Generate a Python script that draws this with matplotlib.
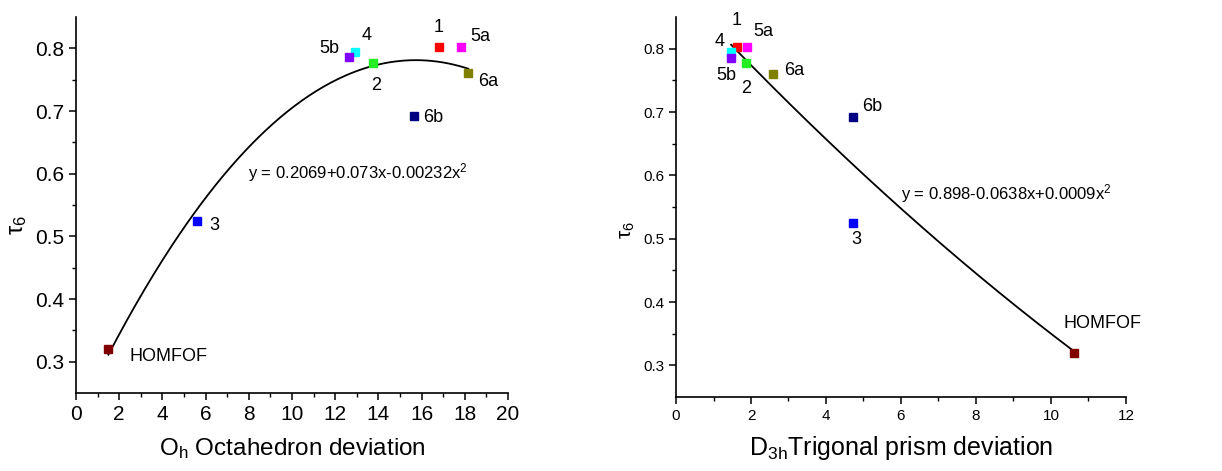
import matplotlib
matplotlib.use("Agg")
import matplotlib.pyplot as plt
import numpy as np

plt.rcParams['font.family'] = ['Liberation Sans', 'DejaVu Sans']
plt.rcParams['mathtext.default'] = 'regular'

# compounds and their tau6 values (same for both panels)
names = ["1", "2", "3", "4", "5a", "5b", "6a", "6b", "HOMFOF"]
tau6 = [0.802, 0.777, 0.525, 0.794, 0.802, 0.786, 0.760, 0.692, 0.320]
oh_dev = [16.79, 13.73, 5.62, 12.93, 17.82, 12.65, 18.16, 15.66, 1.50]
d3h_dev = [1.62, 1.87, 4.73, 1.47, 1.90, 1.47, 2.60, 4.73, 10.62]
colors = ["#ff0000", "#22ee22", "#0000ff", "#00ffff", "#ff00ff",
          "#8000ff", "#808000", "#000080", "#800000"]

# fitted polynomials shown on the chart (c0, c1, c2)
oh_fit = [0.2069, 0.073, -0.00232]
d3h_fit = [0.898, -0.0638, 0.0009]

# label offsets in pixels (dx, dy) for each point
oh_offsets = [(0, 20), (4, -23), (17, -5), (11, 17), (19, 11),
              (-20, 9), (20, -8), (19, -1), (60, -7)]
d3h_offsets = [(0, 27), (0, -25), (3, -17), (-12, 11), (16, 16),
               (-5, -18), (21, 4), (19, 11), (28, 29)]

fig = plt.figure(figsize=(12.22, 4.71), dpi=100)
ax1 = fig.add_axes([0.0622, 0.1656, 0.3535, 0.7983])
ax2 = fig.add_axes([0.5532, 0.1571, 0.3682, 0.8068])


def draw_panel(ax, xs, fit, offsets, xlim, xmajor, tick_fs, label_fs):
    xx = np.linspace(min(xs), max(xs), 200)
    yy = fit[0] + fit[1] * xx + fit[2] * xx ** 2
    ax.plot(xx, yy, color="black", lw=1.3, zorder=2)
    for x, y, c, n, off in zip(xs, tau6, colors, names, offsets):
        ax.plot(x, y, marker="s", ms=5.5, color=c, mec=c, ls="none", zorder=3)
        ax.annotate(n, (x, y), xytext=(off[0] * 0.72, off[1] * 0.72),
                    textcoords="offset points", ha="center", va="center",
                    fontsize=label_fs)
    ax.set_xlim(*xlim)
    ax.set_ylim(0.25, 0.85)
    ax.set_xticks(np.arange(xlim[0], xlim[1] + 0.1, xmajor))
    ax.set_xticks(np.arange(xlim[0] + xmajor / 2, xlim[1], xmajor), minor=True)
    ax.set_yticks([0.3, 0.4, 0.5, 0.6, 0.7, 0.8])
    ax.set_yticks([0.35, 0.45, 0.55, 0.65, 0.75], minor=True)
    ax.yaxis.set_major_formatter(matplotlib.ticker.FormatStrFormatter('%.1f'))
    ax.spines['top'].set_visible(False)
    ax.spines['right'].set_visible(False)
    for s in ['left', 'bottom']:
        ax.spines[s].set_linewidth(1.2)
    ax.tick_params(which="major", direction="out", length=5, width=1.1,
                   labelsize=tick_fs)
    ax.tick_params(which="minor", direction="out", length=3, width=1.0)


draw_panel(ax1, oh_dev, oh_fit, oh_offsets, (0, 20), 2, 15, 13)
draw_panel(ax2, d3h_dev, d3h_fit, d3h_offsets, (0, 12), 2, 11, 13)

ax1.text(7.96, 0.602, "y = 0.2069+0.073x-0.00232x$^2$", fontsize=12,
         ha="left", va="center")
ax2.text(6.0, 0.572, "y = 0.898-0.0638x+0.0009x$^2$", fontsize=12,
         ha="left", va="center")

ax1.set_xlabel("O$_h$ Octahedron deviation", fontsize=17.5, labelpad=9)
ax2.set_xlabel("D$_{3h}$Trigonal prism deviation", fontsize=18, labelpad=8)
ax1.set_ylabel("τ$_6$", fontsize=17)
ax2.set_ylabel("τ$_6$", fontsize=15)
ax1.yaxis.set_label_coords(-0.108, 0.447)
ax2.yaxis.set_label_coords(-0.087, 0.44)

fig.savefig("out.png", dpi=100)
